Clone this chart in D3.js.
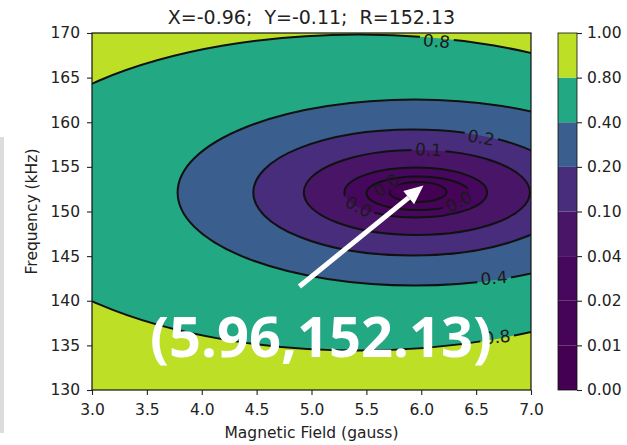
<!DOCTYPE html>
<html>
<head>
<meta charset="utf-8">
<script src="https://cdn.jsdelivr.net/npm/d3@7"></script>
<style>
  body { margin: 0; background: #fff; }
  svg { display: block; font-family: 'DejaVu Sans', sans-serif; }
</style>
</head>
<body>
<svg id="chart" width="627" height="445"></svg>
<script>
// colorbar boundaries / contourf levels
const bounds = [0, 0.01, 0.02, 0.04, 0.1, 0.2, 0.4, 0.8, 1.0];
const lineLevels = [0.01, 0.02, 0.04, 0.1, 0.2, 0.4, 0.8];

// every contour (gauss, kHz)
const centreField = [5.97, 5.97, 5.95, 5.96, 5.92, 5.94, 5.43];
const centreFreq = [152.19, 152.04, 152.13, 152.13, 152.13, 152.13, 152.13];
const halfField = [0.26, 0.47, 0.65, 1.03, 1.45, 2.16, 3.35];
const halfFreq = [1.12, 1.87, 2.80, 4.76, 7.06, 10.42, 17.70];

const fieldTicks = [3.0, 3.5, 4.0, 4.5, 5.0, 5.5, 6.0, 6.5, 7.0];
const freqTicks = [130, 135, 140, 145, 150, 155, 160, 165, 170];

// inline contour labels
const labelLevel = [0.8, 0.2, 0.1, 0.4, 0.8, 0.04, 0.01, 0.02];
const labelField = [6.14, 6.545, 6.066, 6.663, 6.69, 5.428, 5.679, 6.34];
const labelFreq = [169.1, 158.29, 156.95, 142.55, 135.94, 150.56, 152.97, 151.12];
const labelAngle = [5, 10, 3, -5, -6, 27, -35, -28];

const marked = [5.96, 152.13];
const arrowTail = [4.89, 141.6];
const arrowTip = [6.02, 152.9];
const title = 'X=-0.96;  Y=-0.11;  R=152.13';

// viridis bands, as they look in the picture
const bandColor = ['#440154', '#450457', '#46085c', '#481567', '#472d7b',
  '#3a5f8e', '#23a884', '#bddf26'];

const margin = {top: 33, right: 96, bottom: 55, left: 92};
const width = 627, height = 445;

const svg = d3.select('#chart');
const x = d3.scaleLinear().domain([3, 7]).range([margin.left, width - margin.right]);
const y = d3.scaleLinear().domain([130, 170]).range([height - margin.bottom, margin.top]);
const cb = d3.scalePoint().domain(bounds).range([height - margin.bottom, margin.top]);

const defs = svg.append('defs');
defs.append('clipPath').attr('id', 'plot-clip')
  .append('rect')
  .attr('x', x(3)).attr('y', y(170))
  .attr('width', x(7) - x(3)).attr('height', y(130) - y(170));

// left edge of the slide
svg.append('rect')
  .attr('x', 0).attr('y', 137).attr('width', 4).attr('height', 296)
  .attr('fill', '#dcdcdc');

const plot = svg.append('g').attr('clip-path', 'url(#plot-clip)');

plot.append('rect')
  .attr('x', x(3)).attr('y', y(170))
  .attr('width', x(7) - x(3)).attr('height', y(130) - y(170))
  .attr('fill', bandColor[bandColor.length - 1]);

const order = d3.range(lineLevels.length).reverse();

const ell = (sel) => sel
  .attr('cx', (i) => x(centreField[i]))
  .attr('cy', (i) => y(centreFreq[i]))
  .attr('rx', (i) => x(centreField[i] + halfField[i]) - x(centreField[i]))
  .attr('ry', (i) => y(centreFreq[i]) - y(centreFreq[i] + halfFreq[i]));

plot.append('g').selectAll('ellipse')
  .data(order)
  .join('ellipse')
  .call(ell)
  .attr('fill', (i) => bandColor[i]);

// gaps in the lines where the labels sit
const labels = labelLevel.map((lv, k) => ({
  level: lv, text: d3.format('.1f')(lv),
  px: x(labelField[k]), py: y(labelFreq[k]), angle: labelAngle[k],
}));

lineLevels.forEach((lv, i) => {
  const m = defs.append('mask').attr('id', 'gap' + i)
    .attr('maskUnits', 'userSpaceOnUse')
    .attr('x', 0).attr('y', 0).attr('width', width).attr('height', height);
  m.append('rect').attr('width', width).attr('height', height).attr('fill', '#fff');
  m.selectAll('rect.cut')
    .data(labels.filter((d) => d.level === lv))
    .join('rect')
    .attr('class', 'cut')
    .attr('x', -17).attr('y', -7).attr('width', 34).attr('height', 14)
    .attr('transform', (d) => 'translate(' + d.px + ',' + d.py + ') rotate(' + d.angle + ')')
    .attr('fill', '#000');
});

plot.append('g').selectAll('ellipse')
  .data(order)
  .join('ellipse')
  .call(ell)
  .attr('fill', 'none')
  .attr('stroke', '#111')
  .attr('stroke-width', 2)
  .attr('mask', (i) => 'url(#gap' + i + ')');

plot.append('g').selectAll('text')
  .data(labels)
  .join('text')
  .attr('transform', (d) => 'translate(' + d.px + ',' + d.py + ') rotate(' + d.angle + ')')
  .attr('text-anchor', 'middle')
  .attr('dy', '0.36em')
  .attr('font-size', 17)
  .attr('fill', '#1a1a1a')
  .text((d) => d.text);

svg.append('rect')
  .attr('x', x(3)).attr('y', y(170))
  .attr('width', x(7) - x(3)).attr('height', y(130) - y(170))
  .attr('fill', 'none').attr('stroke', '#111').attr('stroke-width', 1.2);

// axes
const styleAxis = (g) => {
  g.select('.domain').remove();
  g.selectAll('.tick line').attr('stroke', '#222').attr('stroke-width', 1.1);
  g.selectAll('.tick text').attr('fill', '#222').attr('font-size', 15.5)
    .attr('font-family', 'DejaVu Sans, sans-serif');
};

svg.append('g')
  .attr('transform', 'translate(0,' + y(130) + ')')
  .call(d3.axisBottom(x).tickValues(fieldTicks).tickFormat(d3.format('.1f'))
    .tickSize(5).tickPadding(9))
  .call(styleAxis);

svg.append('g')
  .attr('transform', 'translate(' + x(3) + ',0)')
  .call(d3.axisLeft(y).tickValues(freqTicks).tickSize(5).tickPadding(7))
  .call(styleAxis);

svg.append('text')
  .attr('x', (x(3) + x(7)) / 2).attr('y', 438)
  .attr('text-anchor', 'middle').attr('font-size', 15.5).attr('fill', '#222')
  .text('Magnetic Field (gauss)');

svg.append('text')
  .attr('transform', 'translate(37,' + (y(150)) + ') rotate(-90)')
  .attr('text-anchor', 'middle').attr('font-size', 15.5).attr('fill', '#222')
  .text('Frequency (kHz)');

svg.append('text')
  .attr('x', (x(3) + x(7)) / 2).attr('y', 24)
  .attr('text-anchor', 'middle').attr('font-size', 19).attr('fill', '#222')
  .style('white-space', 'pre')
  .text(title);

// colorbar
const cbX = 558, cbW = 19;
const bar = svg.append('g');
bar.selectAll('rect')
  .data(d3.range(bounds.length - 1))
  .join('rect')
  .attr('x', cbX).attr('width', cbW)
  .attr('y', (i) => cb(bounds[i + 1]))
  .attr('height', (i) => cb(bounds[i]) - cb(bounds[i + 1]))
  .attr('fill', (i) => bandColor[i]);
bar.append('rect')
  .attr('x', cbX).attr('width', cbW)
  .attr('y', cb(1)).attr('height', cb(0) - cb(1))
  .attr('fill', 'none').attr('stroke', '#111').attr('stroke-width', 0.8);

svg.append('g')
  .attr('transform', 'translate(' + (cbX + cbW) + ',0)')
  .call(d3.axisRight(cb).tickFormat(d3.format('.2f')).tickSize(5).tickPadding(5))
  .call(styleAxis);

// annotation
const tx = x(arrowTail[0]), ty = y(arrowTail[1]);
const hx = x(arrowTip[0]), hy = y(arrowTip[1]);
const ang = Math.atan2(hy - ty, hx - tx);
const headLen = 19, headHalf = 8.5;
const bx = hx - headLen * Math.cos(ang), by = hy - headLen * Math.sin(ang);

svg.append('line')
  .attr('x1', tx).attr('y1', ty).attr('x2', bx).attr('y2', by)
  .attr('stroke', '#fff').attr('stroke-width', 5);
svg.append('polygon')
  .attr('points', [
    [hx, hy],
    [bx + headHalf * Math.sin(ang), by - headHalf * Math.cos(ang)],
    [bx - headHalf * Math.sin(ang), by + headHalf * Math.cos(ang)],
  ].map((p) => p.join(',')).join(' '))
  .attr('fill', '#fff');

svg.append('text')
  .attr('x', 150).attr('y', 357)
  .attr('font-family', 'Open Sans, sans-serif')
  .attr('font-weight', 700)
  .attr('font-size', 56)
  .attr('fill', '#fff')
  .text('(' + marked[0].toFixed(2) + ',' + marked[1].toFixed(2) + ')');
</script>
</body>
</html>
